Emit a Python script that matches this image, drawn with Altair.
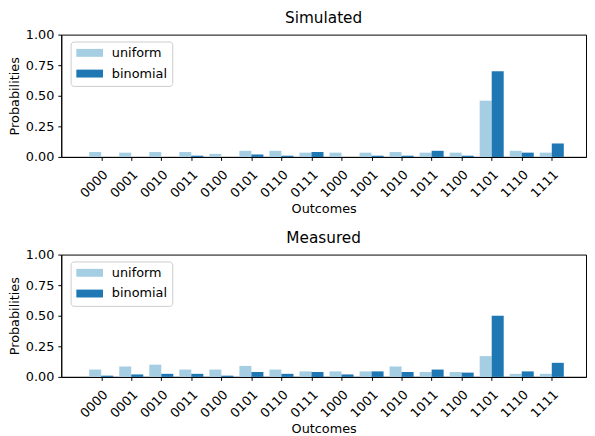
import altair as alt
import pandas as pd

outcomes = ["0000", "0001", "0010", "0011", "0100", "0101", "0110", "0111",
            "1000", "1001", "1010", "1011", "1100", "1101", "1110", "1111"]
series_names = ["uniform", "binomial"]
series_colors = ["#a6cee3", "#1f78b4"]

sim_uniform = [0.04, 0.035, 0.04, 0.04, 0.025, 0.05, 0.05, 0.035,
               0.035, 0.035, 0.04, 0.035, 0.035, 0.46, 0.05, 0.035]
sim_binomial = [0.0, 0.0, 0.0, 0.01, 0.0, 0.02, 0.01, 0.04,
                0.0, 0.01, 0.01, 0.05, 0.01, 0.70, 0.035, 0.11]
meas_uniform = [0.06, 0.085, 0.10, 0.06, 0.06, 0.09, 0.06, 0.045,
                0.045, 0.045, 0.085, 0.04, 0.04, 0.17, 0.025, 0.025]
meas_binomial = [0.01, 0.02, 0.025, 0.025, 0.01, 0.04, 0.025, 0.04,
                 0.02, 0.045, 0.04, 0.06, 0.035, 0.50, 0.045, 0.115]

y_ticks = [0.0, 0.25, 0.5, 0.75, 1.0]
FONT = "DejaVu Sans"
FS = 13


def make_df(uniform, binomial):
    rows = []
    for i, o in enumerate(outcomes):
        rows.append({"idx": i, "outcome": o, "series": "uniform", "value": uniform[i]})
        rows.append({"idx": i, "outcome": o, "series": "binomial", "value": binomial[i]})
    return pd.DataFrame(rows)


label_array = "[" + ",".join("'%s'" % o for o in outcomes) + "]"


def panel(df, title):
    return (
        alt.Chart(df, title=alt.Title(title, fontSize=15.5, font=FONT, fontWeight="normal", offset=2))
        .transform_calculate(
            x0="datum.idx + (datum.series == 'uniform' ? -0.4 : 0)",
            x1="datum.idx + (datum.series == 'uniform' ? 0 : 0.4)",
        )
        .mark_bar()
        .encode(
            x=alt.X(
                "x0:Q",
                scale=alt.Scale(domain=[-1.33, 16.14], nice=False, zero=False),
                axis=alt.Axis(
                    title="Outcomes",
                    titlePadding=3,
                    values=list(range(len(outcomes))),
                    labelExpr=label_array + "[datum.value]",
                    labelAngle=-45,
                    labelAlign="right",
                    labelBaseline="middle",
                    labelPadding=12,
                    labelOffset=4,
                    labelOverlap=False,
                    grid=False,
                ),
            ),
            x2="x1:Q",
            y=alt.Y(
                "value:Q",
                scale=alt.Scale(domain=[0, 1], nice=False),
                axis=alt.Axis(title="Probabilities", values=y_ticks, format=".2f", grid=False),
            ),
            y2=alt.datum(0),
            color=alt.Color(
                "series:N",
                scale=alt.Scale(domain=series_names, range=series_colors),
                legend=alt.Legend(
                    title=None,
                    orient="none",
                    legendX=9.5,
                    legendY=7,
                    fillColor="white",
                    strokeColor="#cccccc",
                    cornerRadius=3,
                    padding=5,
                    rowPadding=7,
                    labelFontSize=FS,
                    labelFont=FONT,
                    labelOffset=16,
                    symbolOffset=7.8,
                    symbolType="M-2.25,-0.667H2.25V0.667H-2.25Z",
                    symbolSize=144,
                    symbolStrokeWidth=0,
                    symbolOpacity=1,
                ),
            ),
        )
        .properties(width=532, height=124)
    )


top = panel(make_df(sim_uniform, sim_binomial), "Simulated")
bottom = panel(make_df(meas_uniform, meas_binomial), "Measured")

chart = (
    alt.vconcat(top, bottom, spacing=14)
    .resolve_scale(color="independent")
    .properties(padding={"left": 0, "top": 0, "right": 0, "bottom": 0})
    .configure_view(stroke="black", strokeWidth=1)
    .configure_axis(
        domainColor="black",
        tickColor="black",
        tickSize=3.5,
        labelColor="black",
        labelFont=FONT,
        labelFontSize=FS,
        labelPadding=4,
        titleFont=FONT,
        titleFontSize=FS,
        titleFontWeight="normal",
        titleColor="black",
        titlePadding=4,
    )
)

chart.save("out.html", embed_options={"renderer": "svg", "actions": False})
